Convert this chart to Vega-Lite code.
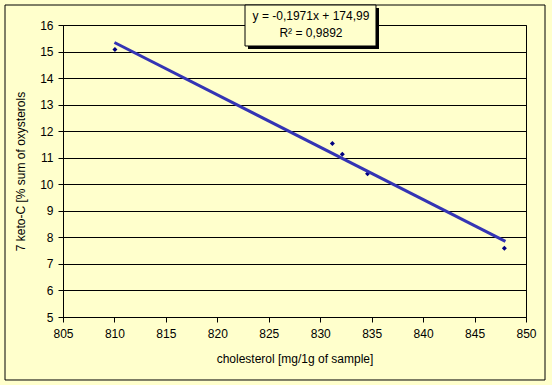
{
  "$schema": "https://vega.github.io/schema/vega-lite/v6.json",
  "width": 463,
  "height": 292,
  "autosize": {"type": "none"},
  "padding": {"left": 63, "top": 25, "right": 26, "bottom": 68},
  "background": "#FFFFCC",
  "config": {
    "font": "Liberation Sans",
    "view": {"stroke": "#000000", "strokeWidth": 1, "fill": "#FFFFCC"},
    "axis": {"labelFont": "Liberation Sans", "titleFont": "Liberation Sans", "labelFontSize": 12, "titleFontSize": 12, "labelColor": "#000000", "titleColor": "#000000", "titleFontWeight": "normal", "domainColor": "#000000", "tickColor": "#000000", "labelOverlap": false}
  },
  "datasets": {
    "points": [
      {"cholesterol": 810.05, "keto": 15.08},
      {"cholesterol": 831.18, "keto": 11.54},
      {"cholesterol": 832.15, "keto": 11.13},
      {"cholesterol": 834.6, "keto": 10.4},
      {"cholesterol": 847.9, "keto": 7.59}
    ],
    "trend": [
      {"cholesterol": 810, "keto": 15.34},
      {"cholesterol": 848, "keto": 7.85}
    ],
    "one": [{}]
  },
  "layer": [
    {
      "data": {"name": "points"},
      "mark": {"type": "point", "shape": "diamond", "filled": true, "color": "#000080", "size": 25, "opacity": 1},
      "encoding": {
        "x": {"field": "cholesterol", "type": "quantitative", "scale": {"domain": [805, 850], "nice": false, "zero": false},
          "axis": {"title": "cholesterol [mg/1g of sample]", "values": [805, 810, 815, 820, 825, 830, 835, 840, 845, 850], "tickCount": 30, "format": "d", "grid": false, "tickSize": 5, "labelPadding": 6, "titlePadding": 14, "labelFlush": false, "labelOverlap": false}},
        "y": {"field": "keto", "type": "quantitative", "scale": {"domain": [5, 16], "nice": false, "zero": false},
          "axis": {"title": "7 keto-C [% sum of oxysterols", "values": [5, 6, 7, 8, 9, 10, 11, 12, 13, 14, 15, 16], "tickCount": 30, "format": "d", "grid": true, "gridColor": "#000000", "gridOpacity": 1, "tickSize": 5, "labelPadding": 5, "titlePadding": 12, "labelFlush": false, "labelOverlap": false}}
      }
    },
    {
      "data": {"name": "trend"},
      "mark": {"type": "line", "color": "#3434B4", "strokeWidth": 3},
      "encoding": {
        "x": {"field": "cholesterol", "type": "quantitative"},
        "y": {"field": "keto", "type": "quantitative"}
      }
    },
    {
      "data": {"name": "one"},
      "mark": {"type": "rect", "fill": null, "stroke": "#000000", "strokeWidth": 1},
      "encoding": {
        "x": {"datum": 799.363, "type": "quantitative"},
        "x2": {"datum": 851.847},
        "y": {"datum": 16.753, "type": "quantitative"},
        "y2": {"datum": 2.627}
      }
    },
    {
      "data": {"name": "one"},
      "mark": {"type": "rect", "fill": "#000000"},
      "encoding": {
        "x": {"datum": 822.98, "type": "quantitative"},
        "x2": {"datum": 835.713},
        "y": {"datum": 16.64, "type": "quantitative"},
        "y2": {"datum": 15.096}
      }
    },
    {
      "data": {"name": "one"},
      "mark": {"type": "rect", "fill": "#FFFFCC", "stroke": "#000000", "strokeWidth": 1},
      "encoding": {
        "x": {"datum": 822.689, "type": "quantitative"},
        "x2": {"datum": 835.421},
        "y": {"datum": 16.753, "type": "quantitative"},
        "y2": {"datum": 15.209}
      }
    },
    {
      "data": {"name": "one"},
      "mark": {"type": "text", "text": "y = -0,1971x + 174,99", "fontSize": 12, "font": "Liberation Sans", "color": "#000000", "align": "center", "baseline": "middle"},
      "encoding": {
        "x": {"datum": 829.1, "type": "quantitative"},
        "y": {"datum": 16.339, "type": "quantitative"}
      }
    },
    {
      "data": {"name": "one"},
      "mark": {"type": "text", "text": "R² = 0,9892", "fontSize": 12, "font": "Liberation Sans", "color": "#000000", "align": "center", "baseline": "middle"},
      "encoding": {
        "x": {"datum": 829.1, "type": "quantitative"},
        "y": {"datum": 15.7, "type": "quantitative"}
      }
    }
  ]
}
